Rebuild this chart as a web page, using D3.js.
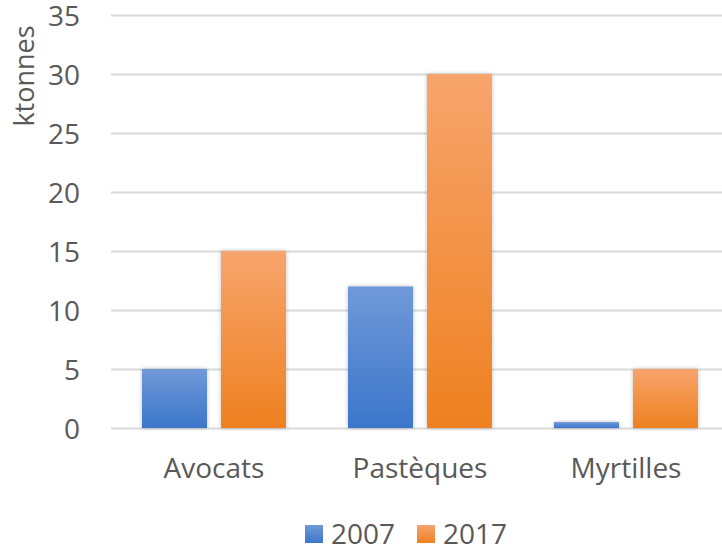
<!doctype html>
<html>
<head>
<meta charset="UTF-8">
<title>ktonnes</title>
<script src="https://d3js.org/d3.v7.min.js"></script>
<style>
  body { margin: 0; background: #fff; }
  text { font-family: "Open Sans", sans-serif; fill: #595959; }
</style>
</head>
<body>
<script>

// -------------------------------------- data

var categories = ["Avocats", "Pastèques", "Myrtilles"];
var years = ["2007", "2017"];
var values2007 = [5, 12, 0.5];
var values2017 = [15, 30, 5];
var yTicks = [0, 5, 10, 15, 20, 25, 30, 35];

// -------------------------------------- colours

var grid_col = "#d9d9d9";
var text_col = "#595959";
var colors = {
  "2007": ["#7099d8", "#3c76cb"],
  "2017": ["#f7a46d", "#ee8120"]
};

// -------------------------------------- board

var W = 722, H = 551;
var margin = { top: 15, right: -7, bottom: 123, left: 111 };
var width = W - margin.left - margin.right,
    height = H - margin.top - margin.bottom;

var svg = d3.select("body").append("svg")
  .attr("width", W)
  .attr("height", H);

var defs = svg.append("defs");
years.forEach(function(y) {
  var g = defs.append("linearGradient")
    .attr("id", "grad" + y)
    .attr("x1", 0).attr("y1", 0).attr("x2", 0).attr("y2", 1);
  g.append("stop").attr("offset", "0%").attr("stop-color", colors[y][0]);
  g.append("stop").attr("offset", "100%").attr("stop-color", colors[y][1]);
});

var shadow = defs.append("filter").attr("id", "shadow")
  .attr("x", "-20%").attr("y", "-20%").attr("width", "140%").attr("height", "140%");
shadow.append("feGaussianBlur").attr("in", "SourceAlpha").attr("stdDeviation", 2);
shadow.append("feComponentTransfer").append("feFuncA").attr("type", "linear").attr("slope", 0.25);
var merge = shadow.append("feMerge");
merge.append("feMergeNode");
merge.append("feMergeNode").attr("in", "SourceGraphic");

var g = svg.append("g")
  .attr("transform", "translate(" + margin.left + "," + margin.top + ")");

// -------------------------------------- scales

var x0 = d3.scaleBand()
  .domain(categories)
  .range([0, width])
  .paddingInner(0)
  .paddingOuter(0);

var x1 = d3.scaleBand()
  .domain(years)
  .range([31, x0.bandwidth() - 31])
  .paddingInner(14 / 79);

var y = d3.scaleLinear()
  .domain([0, 35])
  .range([height, 0]);

// -------------------------------------- grid

g.selectAll("line.grid")
  .data(yTicks)
  .enter().append("line")
  .attr("class", "grid")
  .attr("x1", 0)
  .attr("x2", width)
  .attr("y1", function(d) { return Math.round(y(d)) + 0.5; })
  .attr("y2", function(d) { return Math.round(y(d)) + 0.5; })
  .style("stroke", grid_col)
  .style("stroke-width", 2);

// -------------------------------------- y axis

var yAxis = g.append("g")
  .attr("transform", "translate(-31,0)")
  .call(d3.axisLeft(y).tickValues(yTicks).tickSize(0).tickPadding(0));
yAxis.select(".domain").remove();
yAxis.selectAll("text")
  .style("font-size", "28px")
  .style("fill", text_col)
  .attr("dy", "0.36em");

svg.append("text")
  .attr("transform", "translate(34,76) rotate(-90)")
  .attr("text-anchor", "middle")
  .style("font-size", "27px")
  .text("ktonnes");

// -------------------------------------- bars

var rows = categories.map(function(c, i) {
  return { cat: c, vals: [
    { year: "2007", v: values2007[i] },
    { year: "2017", v: values2017[i] }
  ] };
});

var groups = g.selectAll("g.cat")
  .data(rows)
  .enter().append("g")
  .attr("class", "cat")
  .attr("transform", function(d) { return "translate(" + x0(d.cat) + ",0)"; });

groups.selectAll("rect")
  .data(function(d) { return d.vals; })
  .enter().append("rect")
  .attr("x", function(d) { return x1(d.year); })
  .attr("width", x1.bandwidth())
  .attr("y", function(d) { return y(d.v); })
  .attr("height", function(d) { return y(0) - y(d.v); })
  .attr("fill", function(d) { return "url(#grad" + d.year + ")"; })
  .attr("filter", "url(#shadow)");

// -------------------------------------- x axis labels

var xAxis = g.append("g")
  .attr("transform", "translate(0," + height + ")")
  .call(d3.axisBottom(x0).tickSize(0).tickPadding(0));
xAxis.select(".domain").remove();
xAxis.selectAll("text")
  .attr("dy", "0")
  .attr("y", 50)
  .style("font-size", "28px")
  .style("fill", text_col);

// -------------------------------------- legend

var legendX = [305, 417];
var legend = svg.selectAll("g.legend")
  .data(years)
  .enter().append("g")
  .attr("class", "legend")
  .attr("transform", function(d, i) { return "translate(" + legendX[i] + ",525)"; });

legend.append("rect")
  .attr("width", 18)
  .attr("height", 18)
  .attr("fill", function(d) { return "url(#grad" + d + ")"; });

legend.append("text")
  .attr("x", 26)
  .attr("y", 19)
  .style("font-size", "28px")
  .text(function(d) { return d; });

</script>
</body>
</html>
